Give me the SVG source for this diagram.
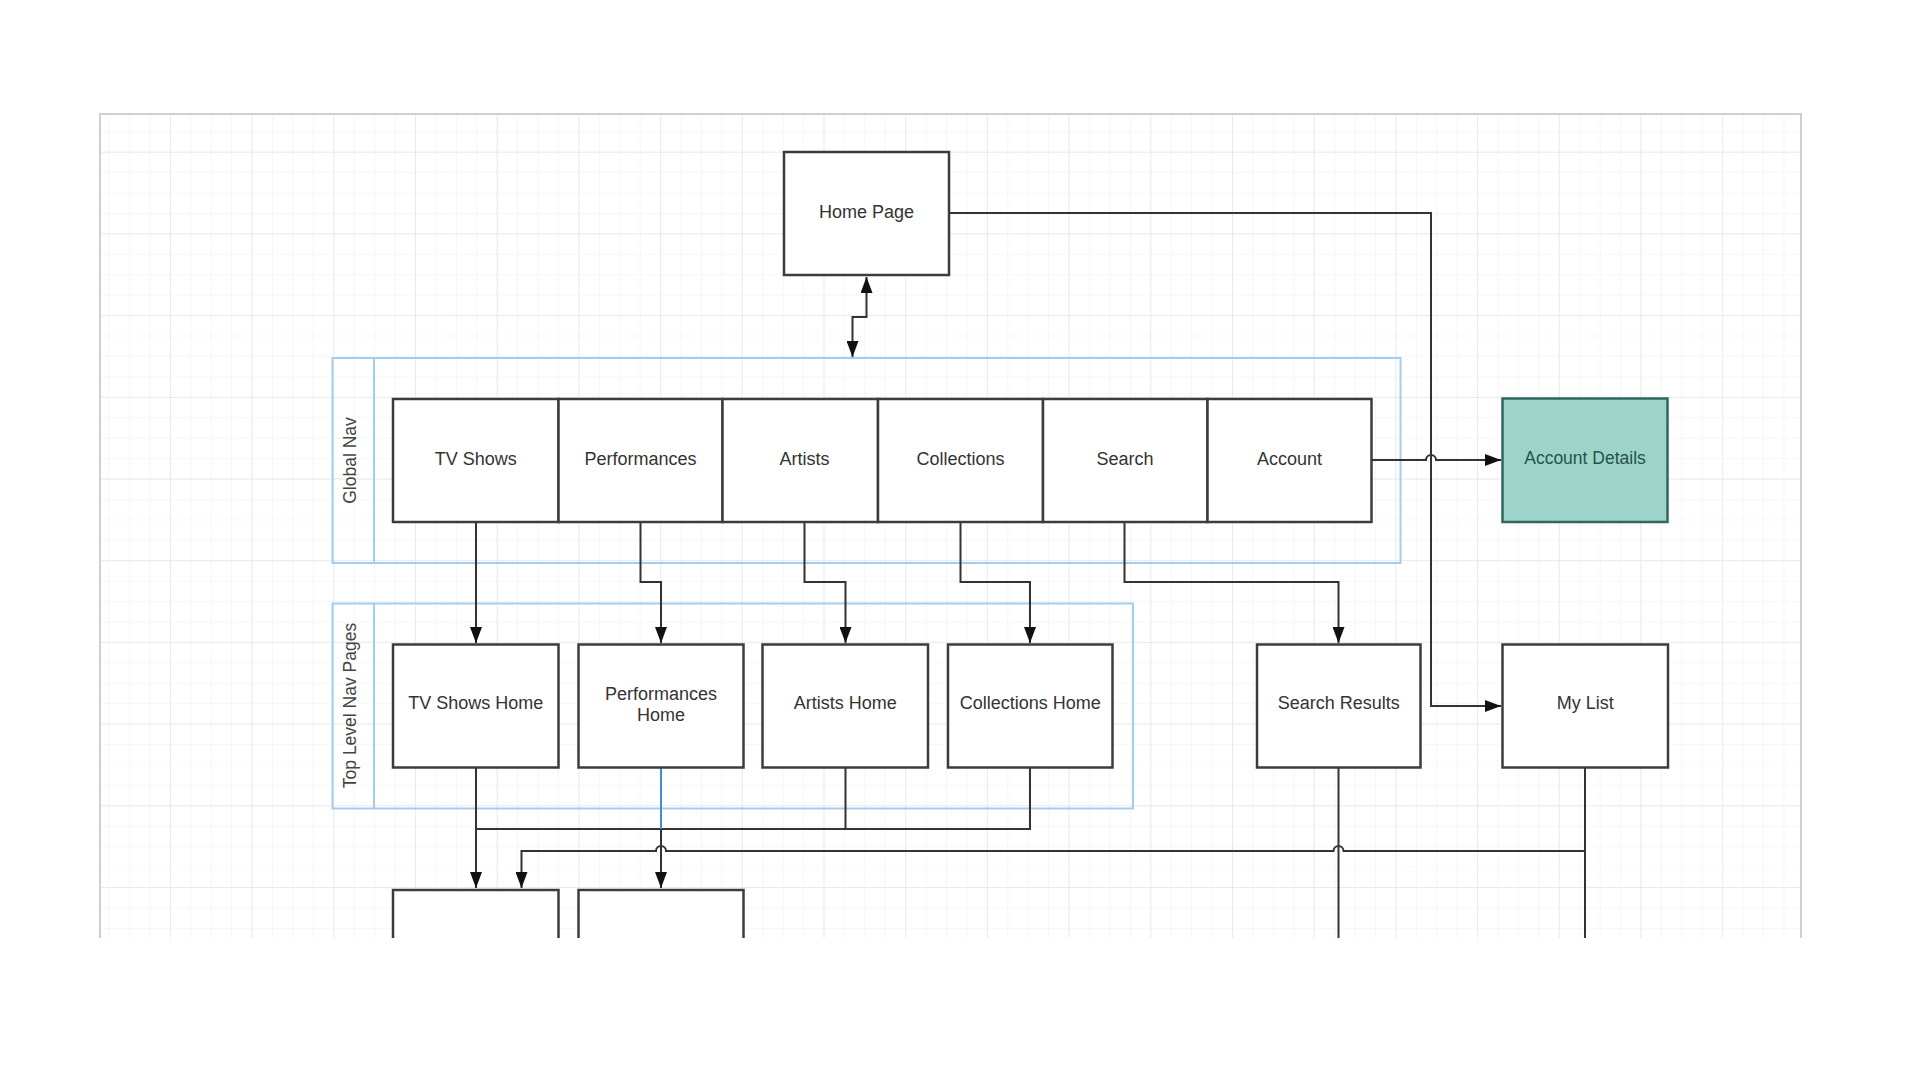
<svg xmlns="http://www.w3.org/2000/svg" width="1920" height="1080" viewBox="0 0 1920 1080">
<style>
.node rect{fill:#fff;stroke:#3c3c3c;stroke-width:2.5}
.node text{font-family:"Liberation Sans",Arial,sans-serif;font-size:18px;fill:#333;text-anchor:middle}
.cont rect,.cont line{fill:none;stroke:#a3cdf0;stroke-width:2}
.cont text{font-family:"Liberation Sans",Arial,sans-serif;font-size:17.5px;fill:#444;text-anchor:middle}
.conn path{fill:none;stroke:#333;stroke-width:2}
.conn path.blue{stroke:#3d8fd4}
.arr{marker-end:url(#ah)}
</style>
<defs>
<pattern id="minor" patternUnits="userSpaceOnUse" x="169.9" y="151.7" width="20.425" height="20.425">
<path d="M0,0 H20.425 M0,0 V20.425" fill="none" stroke="#f0f0f0" stroke-width="1.2"/>
</pattern>
<pattern id="major" patternUnits="userSpaceOnUse" x="169.9" y="151.7" width="81.7" height="81.7">
<path d="M0,0 H81.7 M0,0 V81.7" fill="none" stroke="#e6e6e6" stroke-width="1.4"/>
</pattern>
<marker id="ah" markerUnits="userSpaceOnUse" markerWidth="16" markerHeight="12" refX="16" refY="6" orient="auto-start-reverse">
<path d="M0,0 L16,6 L0,12 z" fill="#111"/>
</marker>
<clipPath id="cut"><rect x="0" y="0" width="1920" height="938"/></clipPath>
</defs>
<rect width="1920" height="1080" fill="#fff"/>
<g id="canvas">
<rect x="100" y="114" width="1701" height="824" fill="url(#minor)"/>
<rect x="100" y="114" width="1701" height="824" fill="url(#major)"/>
<path d="M100,938 V114 H1801 V938" fill="none" stroke="#cfcfcf" stroke-width="2"/>
</g>
<g clip-path="url(#cut)">
<g id="container-global-nav" class="cont">
<rect x="332.5" y="358" width="1068" height="205"/>
<line x1="374" y1="358" x2="374" y2="563"/>
<text transform="translate(355.5,460.5) rotate(-90)">Global Nav</text>
</g>
<g id="container-top-level" class="cont">
<rect x="332.5" y="603.5" width="800.5" height="205"/>
<line x1="374" y1="603.5" x2="374" y2="808.5"/>
<text transform="translate(355.5,705.5) rotate(-90)">Top Level Nav Pages</text>
</g>
<g id="connectors" class="conn">
<path class="arr" style="marker-start:url(#ah)" d="M866.5,277 V317 H852.5 V357"/>
<path class="arr" d="M949,213 H1431 V706 H1501"/>
<path class="arr" d="M1371,460 H1426 A5,5 0 0 1 1436,460 H1501"/>
<path class="arr" d="M476,522 V643"/>
<path class="arr" d="M640.5,522 V582 H661 V643"/>
<path class="arr" d="M804.5,522 V582 H845.5 V643"/>
<path class="arr" d="M960.5,522 V582 H1030 V643"/>
<path class="arr" d="M1124.5,522 V582 H1338.5 V643"/>
<path class="arr" d="M476,768 V888"/>
<path d="M1030,768 V829 H476 M845.5,768 V829"/>
<path class="blue" d="M661,768 V829"/>
<path class="arr" d="M661,829 V888"/>
<path class="arr" d="M1585,851 H1343.5 A5,5 0 0 0 1333.5,851 H666 A5,5 0 0 0 656,851 H521.5 V888"/>
<path d="M1585,768 V940"/>
<path d="M1338.5,768 V940"/>
</g>
<g id="node-home-page" class="node">
<rect x="784" y="152" width="165" height="123"/>
<text x="866.5" y="217.5">Home Page</text>
</g>
<g id="node-tv-shows" class="node">
<rect x="393" y="399" width="165.5" height="123"/>
<text x="475.8" y="464.5">TV Shows</text>
</g>
<g id="node-performances" class="node">
<rect x="558.5" y="399" width="164" height="123"/>
<text x="640.5" y="464.5">Performances</text>
</g>
<g id="node-artists" class="node">
<rect x="722.5" y="399" width="155.5" height="123"/>
<text x="804.5" y="464.5">Artists</text>
</g>
<g id="node-collections" class="node">
<rect x="878" y="399" width="165" height="123"/>
<text x="960.5" y="464.5">Collections</text>
</g>
<g id="node-search" class="node">
<rect x="1043" y="399" width="164.5" height="123"/>
<text x="1125" y="464.5">Search</text>
</g>
<g id="node-account" class="node">
<rect x="1207.5" y="399" width="164" height="123"/>
<text x="1289.5" y="464.5">Account</text>
</g>
<g id="node-account-details" class="node">
<rect x="1502.5" y="398.5" width="165" height="123.5" style="fill:#9dd4ca;stroke:#2f675e"/>
<text x="1585" y="464" style="fill:#24534b;font-size:17.5px">Account Details</text>
</g>
<g id="node-tv-shows-home" class="node">
<rect x="393" y="644.5" width="165.5" height="123"/>
<text x="475.8" y="709">TV Shows Home</text>
</g>
<g id="node-performances-home" class="node">
<rect x="578.5" y="644.5" width="165" height="123"/>
<text x="661" y="699.5">Performances</text>
<text x="661" y="721">Home</text>
</g>
<g id="node-artists-home" class="node">
<rect x="762.5" y="644.5" width="165.5" height="123"/>
<text x="845.3" y="709">Artists Home</text>
</g>
<g id="node-collections-home" class="node">
<rect x="948" y="644.5" width="164.5" height="123"/>
<text x="1030.2" y="709">Collections Home</text>
</g>
<g id="node-search-results" class="node">
<rect x="1257" y="644.5" width="163.5" height="123"/>
<text x="1338.7" y="709">Search Results</text>
</g>
<g id="node-my-list" class="node">
<rect x="1502.5" y="644.5" width="165.5" height="123"/>
<text x="1585.3" y="709">My List</text>
</g>
<g id="node-lower-1" class="node">
<rect x="393" y="890" width="165.5" height="123"/>
</g>
<g id="node-lower-2" class="node">
<rect x="578.5" y="890" width="165" height="123"/>
</g>
</g>
</svg>
